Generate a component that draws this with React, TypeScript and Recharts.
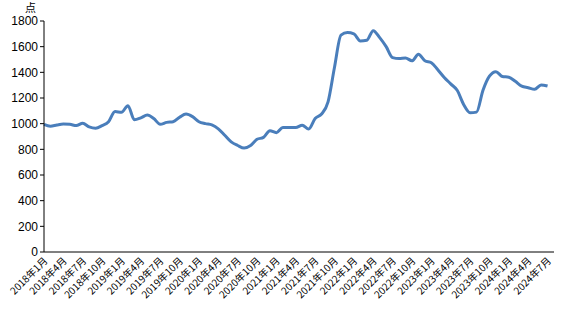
import React from 'react';
import { LineChart, Line, XAxis, YAxis } from 'recharts';

// monthly index values, 2018-01 .. 2024-07 (2024-08 slot left empty)
const months: string[] = [];
for (let y = 2018; y <= 2024; y++) {
  for (let m = 1; m <= 12; m++) {
    if (y === 2024 && m > 8) break;
    months.push(`${y}年${m}月`);
  }
}

const values: (number | null)[] = [
  995, 980, 990, 997, 995, 985, 1003, 975, 965, 985, 1015, 1095,
  1088, 1140, 1030, 1045, 1067, 1040, 995, 1010, 1015, 1050, 1075, 1055,
  1015, 1000, 990, 960, 910, 858, 830, 810, 830, 878, 893, 945,
  930, 970, 970, 970, 988, 958, 1040, 1075, 1170, 1440, 1690, 1710,
  1700, 1645, 1650, 1725, 1670, 1600, 1515, 1508, 1512, 1490, 1540, 1490,
  1475, 1420, 1360, 1310, 1260, 1150, 1085, 1090, 1260, 1370, 1405, 1368,
  1362, 1330, 1292, 1280, 1268, 1302, 1293, null,
];

const yTicks = [0, 200, 400, 600, 800, 1000, 1200, 1400, 1600, 1800];

const data = months.map((month, i) => ({ month, value: values[i] }));

const MonthTick = (props: any) => {
  const { x, y, payload } = props;
  return (
    <g transform={`translate(${x},${y})`}>
      <text
        x={0}
        y={0}
        dx={2}
        dy={4}
        textAnchor="end"
        transform="rotate(-45)"
        fontSize={10}
        fill="#000"
        fontFamily="'Noto Sans CJK SC', sans-serif"
      >
        {payload.value}
      </text>
    </g>
  );
};

const App: React.FC = () => {
  return (
    <div style={{ position: 'absolute', left: 0, top: 0, width: 575, height: 322, background: '#fff' }}>
      <div
        style={{
          position: 'absolute',
          left: 25,
          top: 2,
          fontSize: 11,
          lineHeight: '11px',
          fontFamily: "'Noto Sans CJK SC', sans-serif",
          color: '#000',
        }}
      >
        点
      </div>
      <LineChart width={575} height={322} data={data} margin={{ top: 21, right: 21, bottom: 0, left: 0 }}>
        <XAxis
          dataKey="month"
          interval={2}
          tickLine={false}
          tick={<MonthTick />}
          height={70}
          axisLine={{ stroke: '#000' }}
        />
        <YAxis
          domain={[0, 1800]}
          ticks={yTicks}
          width={44}
          tickSize={4}
          tickLine={{ stroke: '#000' }}
          axisLine={{ stroke: '#000' }}
          tick={{ fill: '#000', fontSize: 12, fontFamily: 'Arial, "Liberation Sans", sans-serif' }}
          interval={0}
        />
        <Line
          type="monotone"
          dataKey="value"
          stroke="#4A7EBB"
          strokeWidth={3}
          dot={false}
          isAnimationActive={false}
        />
      </LineChart>
    </div>
  );
};

export default App;
